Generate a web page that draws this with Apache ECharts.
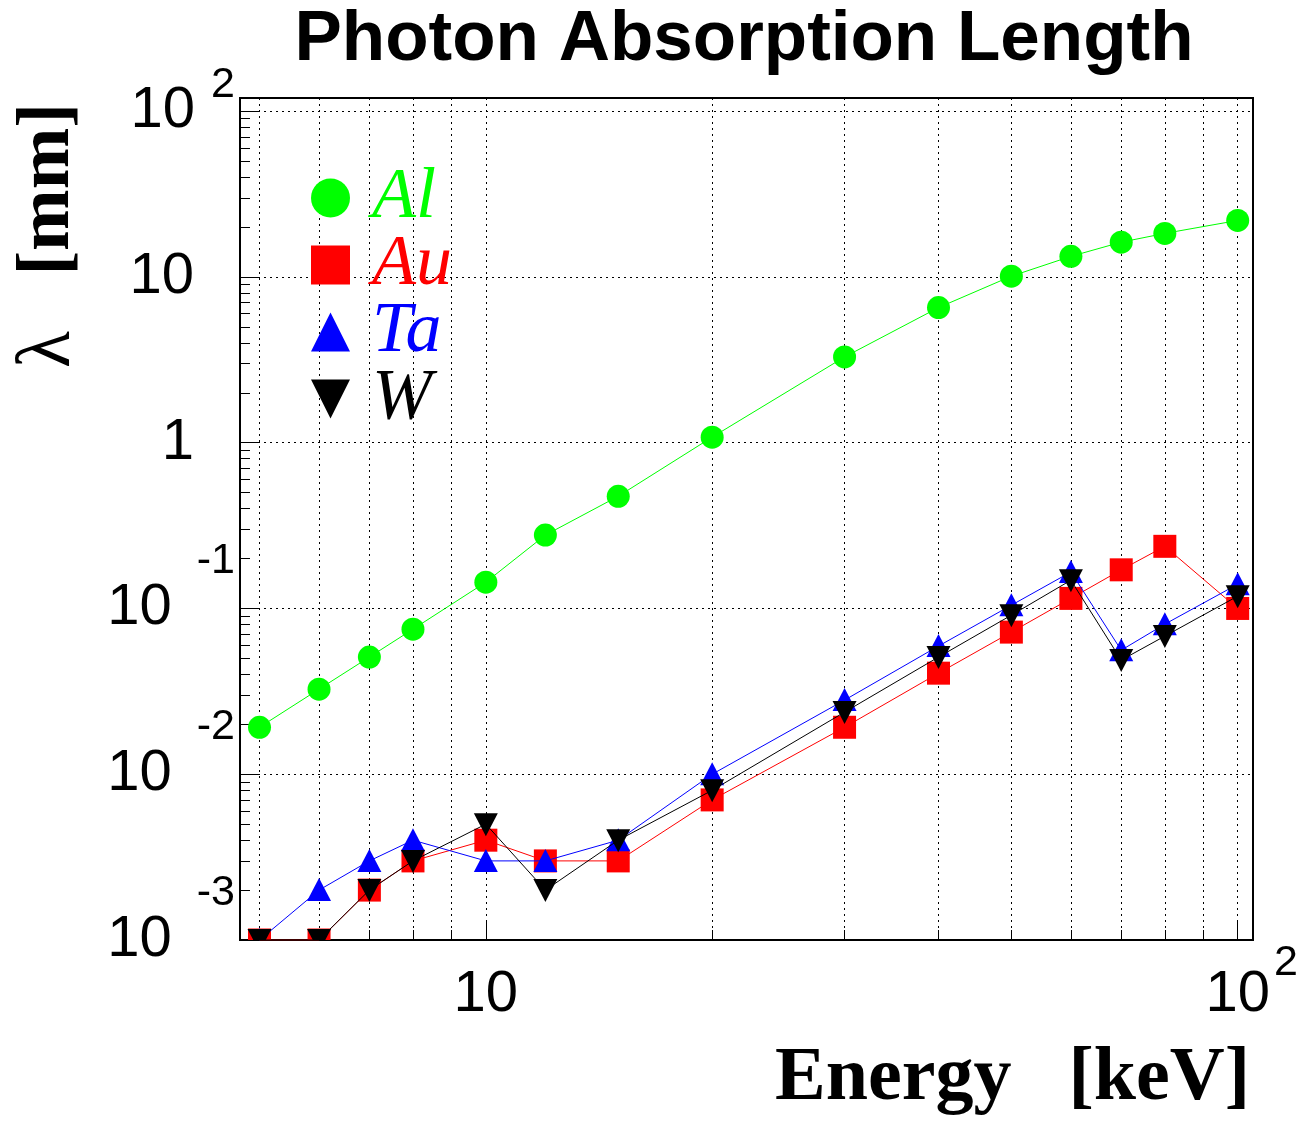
<!DOCTYPE html>
<html>
<head>
<meta charset="utf-8">
<script src="https://cdn.jsdelivr.net/npm/echarts@6/dist/echarts.min.js"></script>
<style>
html,body{margin:0;padding:0;background:#fff;}
#chart{width:1307px;height:1122px;}
</style>
</head>
<body>
<div id="chart"></div>
<script>
// ---------------- data ----------------
const energies = [5, 6, 7, 8, 10, 12, 15, 20, 30, 40, 50, 60, 70, 80, 100];
const alValues = [0.0192, 0.0326, 0.0509, 0.0750, 0.144, 0.277, 0.475, 1.08, 3.29, 6.53, 10.1, 13.3, 16.2, 18.3, 21.9];
const auValues = [0.001, 0.001, 0.002, 0.003, 0.004, 0.003, 0.003, 0.007, 0.0192, 0.0407, 0.0720, 0.115, 0.171, 0.237, 0.100];
const taValues = [0.001, 0.002, 0.003, 0.004, 0.003, 0.003, 0.004, 0.010, 0.028, 0.0593, 0.1046, 0.166, 0.056, 0.0804, 0.140];
const wValues  = [0.001, 0.001, 0.002, 0.003, 0.005, 0.002, 0.004, 0.008, 0.0237, 0.0509, 0.0911, 0.148, 0.0488, 0.0681, 0.1186];

const seriesNames = ['Al', 'Au', 'Ta', 'W'];

// tick labels
const xTickValues = [10, 100];
const xTickBase = ['10', '10'];
const xTickExp = ['', '2'];
const yTickValues = [0.001, 0.01, 0.1, 1, 10, 100];
const yTickBase = ['10', '10', '10', '1', '10', '10'];
const yTickExp = ['-3', '-2', '-1', '', '', '2'];

// grid / tick positions
const xGridValues = [5, 6, 7, 8, 9, 10, 20, 30, 40, 50, 60, 70, 80, 90, 100];
const xMajorTicks = [10, 100];
const yMinorTicks = [0.002, 0.003, 0.004, 0.005, 0.006, 0.007, 0.008, 0.009,
                     0.02, 0.03, 0.04, 0.05, 0.06, 0.07, 0.08, 0.09,
                     0.2, 0.3, 0.4, 0.5, 0.6, 0.7, 0.8, 0.9,
                     2, 3, 4, 5, 6, 7, 8, 9,
                     20, 30, 40, 50, 60, 70, 80, 90];

const xRange = [4.71, 104.8];
const yRange = [0.001, 120];

// ---------------- helpers ----------------
function findIdx(arr, v) {
  for (let i = 0; i < arr.length; i++) {
    if (Math.abs(Math.log10(v) - Math.log10(arr[i])) < 1e-6) return i;
  }
  return -1;
}
function yFmt(v) {
  const i = findIdx(yTickValues, v);
  if (i < 0) return '';
  const e = yTickExp[i];
  if (!e) return '{yp|' + yTickBase[i] + '}';
  if (e.charAt(0) === '-') return '{yb|' + yTickBase[i] + '}{yn|' + e + '}';
  return '{yb|' + yTickBase[i] + '}{ys|' + e + '}';
}
function xFmt(v) {
  const i = findIdx(xTickValues, v);
  if (i < 0) return '';
  const e = xTickExp[i];
  if (!e) return '{xb|' + xTickBase[i] + '}';
  return '{xb2|' + xTickBase[i] + '}{xs|' + e + '}';
}

const SANS = 'Liberation Sans, Arial, Helvetica, sans-serif';
const SERIF = 'Liberation Serif, Times New Roman, serif';
const downTri = 'path://M0,0L20,0L10,20Z';

const colors = {Al: '#00ff00', Au: '#ff0000', Ta: '#0000ff', W: '#000000'};
const legendIcons = {Al: 'circle', Au: 'rect', Ta: 'triangle', W: downTri};
const valuesBy = {Al: alValues, Au: auValues, Ta: taValues, W: wValues};

// marker shape drawn at a point given by the axes' scales
function markerShape(n, cx, cy) {
  const fill = {fill: colors[n]};
  if (n === 'Al') return {type: 'circle', shape: {cx: cx, cy: cy, r: 11.5}, style: fill};
  if (n === 'Au') return {type: 'rect', shape: {x: cx - 11.5, y: cy - 11.5, width: 23, height: 23}, style: fill};
  if (n === 'Ta') return {type: 'polygon', shape: {points: [[cx, cy - 12], [cx + 12, cy + 11], [cx - 12, cy + 11]]}, style: fill};
  return {type: 'polygon', shape: {points: [[cx - 12, cy - 11], [cx + 12, cy - 11], [cx, cy + 12]]}, style: fill};
}

const gridLine = {color: '#000', width: 1, type: [2, 4]};

const series = [];
seriesNames.forEach((n, k) => {
  const pts = energies.map((e, i) => [e, valuesBy[n][i]]);
  series.push({
    name: n,
    type: 'line',
    xAxisIndex: 0, yAxisIndex: 0,
    data: pts,
    symbol: 'none',
    showSymbol: false,
    clip: true,
    z: 2 + 2 * k,
    lineStyle: {color: colors[n], width: 1},
    itemStyle: {color: colors[n]},
    emphasis: {disabled: true},
    animation: false
  });
  series.push({
    name: n,
    type: 'custom',
    coordinateSystem: 'cartesian2d',
    xAxisIndex: 0, yAxisIndex: 0,
    data: pts,
    encode: {x: 0, y: 1},
    clip: true,
    silent: true,
    z: 3 + 2 * k,
    itemStyle: {color: colors[n]},
    renderItem: function (params, api) {
      const p = api.coord([api.value(0), api.value(1)]);
      return markerShape(n, p[0], p[1]);
    },
    animation: false
  });
});

const chart = echarts.init(document.getElementById('chart'), null, {renderer: 'canvas'});
chart.setOption({
  animation: false,
  backgroundColor: '#ffffff',
  title: {
    text: 'Photon Absorption Length',
    left: 744, top: 5, padding: 0,
    textAlign: 'center', textVerticalAlign: 'top',
    textStyle: {fontFamily: SANS, fontWeight: 'bold', fontSize: 71, lineHeight: 71, color: '#000'}
  },
  legend: {
    orient: 'vertical',
    left: 311, top: 162,
    padding: 0,
    itemWidth: 39, itemHeight: 39, itemGap: -5,
    align: 'left',
    selectedMode: false,
    textStyle: {fontFamily: SERIF, fontStyle: 'italic', fontSize: 72, lineHeight: 72, padding: [0, 0, 0, 17]},
    data: seriesNames.map(n => ({
      name: n,
      icon: legendIcons[n],
      itemStyle: {color: colors[n]},
      textStyle: {color: colors[n]}
    }))
  },
  grid: {
    left: 240, right: 54, top: 98, bottom: 182,
    show: true, borderColor: '#000', borderWidth: 2, backgroundColor: 'transparent',
    containLabel: false
  },
  xAxis: [
    {
      type: 'log', logBase: 10, min: xRange[0], max: xRange[1], position: 'bottom',
      axisLine: {show: false},
      axisTick: {show: true, inside: true, length: 10, customValues: xGridValues, lineStyle: {color: '#000', width: 1}},
      minorTick: {show: false},
      splitLine: {show: true, lineStyle: gridLine},
      axisLabel: {
        show: true, margin: 2, customValues: xTickValues, formatter: xFmt,
        rich: {
          xb: {fontFamily: SANS, fontSize: 58, lineHeight: 105, color: '#000'},
          xb2: {fontFamily: SANS, fontSize: 58, lineHeight: 105, color: '#000', padding: [0, 0, 0, 28]},
          xs: {fontFamily: SANS, fontSize: 43, color: '#000', padding: [0, 0, 62, 4]}
        }
      },
      name: 'Energy   [keV]', nameLocation: 'end', nameGap: -3, nameMoveOverlap: false,
      nameTextStyle: {fontFamily: SERIF, fontWeight: 'bold', fontSize: 76, lineHeight: 76, color: '#000',
                      align: 'right', verticalAlign: 'top', padding: [101, 0, 0, 0]}
    },
    {
      type: 'log', logBase: 10, min: xRange[0], max: xRange[1], position: 'bottom',
      axisLine: {show: false},
      axisTick: {show: true, inside: true, length: 19, customValues: xMajorTicks, lineStyle: {color: '#000', width: 1}},
      splitLine: {show: false},
      axisLabel: {show: false}
    }
  ],
  yAxis: [
    {
      type: 'log', logBase: 10, min: yRange[0], max: yRange[1], position: 'left',
      axisLine: {show: false},
      axisTick: {show: true, inside: true, length: 19, customValues: yTickValues, lineStyle: {color: '#000', width: 1}},
      minorTick: {show: false},
      splitLine: {show: true, lineStyle: gridLine},
      axisLabel: {
        show: true, margin: 5, customValues: yTickValues, formatter: yFmt,
        rich: {
          yp: {fontFamily: SANS, fontSize: 58, lineHeight: 58, color: '#000', padding: [0, 41, 0, 0]},
          yb: {fontFamily: SANS, fontSize: 58, lineHeight: 58, color: '#000'},
          yn: {fontFamily: SANS, fontSize: 43, color: '#000', padding: [0, 0, 94, 25]},
          ys: {fontFamily: SANS, fontSize: 43, color: '#000', padding: [0, 0, 51, 16]}
        }
      },
      name: '{l|λ}{t|   [mm]}', nameLocation: 'end', nameGap: -5, nameRotate: 90, nameMoveOverlap: false,
      nameTextStyle: {fontFamily: SERIF, fontWeight: 'bold', fontSize: 74, lineHeight: 74, color: '#000',
                      align: 'right', verticalAlign: 'bottom', padding: [0, 0, 154, 0],
                      rich: {
                        l: {fontFamily: SERIF, fontWeight: 'normal', fontSize: 76, lineHeight: 74, color: '#000'},
                        t: {fontFamily: SERIF, fontWeight: 'bold', fontSize: 74, lineHeight: 74, color: '#000'}
                      }}
    },
    {
      type: 'log', logBase: 10, min: yRange[0], max: yRange[1], position: 'left',
      axisLine: {show: false},
      axisTick: {show: true, inside: true, length: 10, customValues: yMinorTicks, lineStyle: {color: '#000', width: 1}},
      splitLine: {show: false},
      axisLabel: {show: false}
    }
  ],
  series: series
});
</script>
</body>
</html>
